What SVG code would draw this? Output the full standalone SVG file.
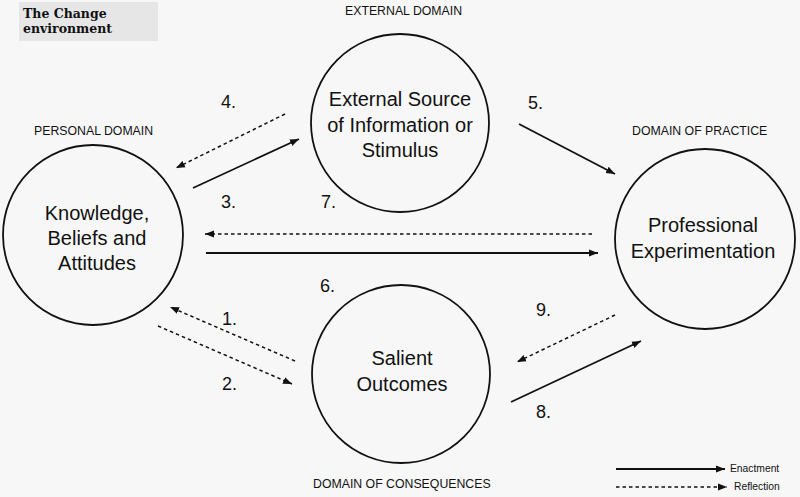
<svg xmlns="http://www.w3.org/2000/svg" width="800" height="497" viewBox="0 0 800 497">
<defs>
<style>
.node{fill:none;stroke:#111;stroke-width:1.8}
.lbl{font-family:"Liberation Sans",Arial,sans-serif;font-size:20px;fill:#111;text-anchor:middle}
.num{font-family:"Liberation Sans",Arial,sans-serif;font-size:18px;fill:#111}
.dom{font-family:"Liberation Sans",Arial,sans-serif;font-size:12.3px;fill:#111}
.leg{font-family:"Liberation Sans",Arial,sans-serif;font-size:10.3px;fill:#111}
.title{font-family:"DejaVu Serif","Liberation Serif",serif;font-size:12.5px;font-weight:bold;fill:#111}
.solid{stroke:#111;stroke-width:1.8;fill:none;marker-end:url(#ah)}
.dash{stroke:#111;stroke-width:1.5;fill:none;stroke-dasharray:3.5 3;marker-end:url(#ah)}
</style>
<marker id="ah" markerUnits="userSpaceOnUse" markerWidth="10" markerHeight="8" refX="9" refY="4" orient="auto">
<path d="M0,0.5 L9,4 L0,7.5 Z" fill="#111"/>
</marker>
</defs>
<rect x="0" y="0" width="800" height="497" fill="#f7f7f7"/>
<g id="title">
<rect x="19" y="2" width="139" height="39" fill="#e6e6e6"/>
<text class="title" x="23" y="18">The Change</text>
<text class="title" x="23" y="33">environment</text>
</g>
<g id="domains">
<text class="dom" x="345" y="15">EXTERNAL DOMAIN</text>
<text class="dom" x="34" y="135">PERSONAL DOMAIN</text>
<text class="dom" x="632" y="135">DOMAIN OF PRACTICE</text>
<text class="dom" x="313" y="488">DOMAIN OF CONSEQUENCES</text>
</g>
<g id="node-knowledge">
<circle class="node" cx="93" cy="235" r="90"/>
<text class="lbl" x="97" y="220">Knowledge,</text>
<text class="lbl" x="97" y="245">Beliefs and</text>
<text class="lbl" x="97" y="270">Attitudes</text>
</g>
<g id="node-external">
<circle class="node" cx="400" cy="123" r="89"/>
<text class="lbl" x="400" y="106">External Source</text>
<text class="lbl" x="400" y="132">of Information or</text>
<text class="lbl" x="400" y="157">Stimulus</text>
</g>
<g id="node-professional">
<circle class="node" cx="705" cy="239" r="90"/>
<text class="lbl" x="703" y="232">Professional</text>
<text class="lbl" x="703" y="258">Experimentation</text>
</g>
<g id="node-salient">
<circle class="node" cx="401" cy="374" r="89"/>
<text class="lbl" x="402" y="365">Salient</text>
<text class="lbl" x="402" y="391">Outcomes</text>
</g>
<g id="connectors">
<line class="dash" x1="285" y1="114" x2="176" y2="168"/>
<line class="solid" x1="193" y1="188" x2="299" y2="139"/>
<line class="solid" x1="519" y1="124" x2="615" y2="174"/>
<line class="dash" x1="592" y1="234" x2="205" y2="234"/>
<line class="solid" x1="206" y1="253" x2="598" y2="253"/>
<line class="dash" x1="295" y1="361" x2="170" y2="307"/>
<line class="dash" x1="158" y1="326" x2="292" y2="384"/>
<line class="dash" x1="615" y1="315" x2="517" y2="362"/>
<line class="solid" x1="511" y1="402" x2="641" y2="341"/>
</g>
<g id="numbers">
<text class="num" x="221" y="108">4.</text>
<text class="num" x="528" y="109">5.</text>
<text class="num" x="221" y="208">3.</text>
<text class="num" x="321" y="208">7.</text>
<text class="num" x="320" y="292">6.</text>
<text class="num" x="222" y="325">1.</text>
<text class="num" x="222" y="390">2.</text>
<text class="num" x="536" y="316">9.</text>
<text class="num" x="536" y="418">8.</text>
</g>
<g id="legend">
<line class="solid" x1="616" y1="469" x2="725" y2="469"/>
<line class="dash" x1="616" y1="487" x2="727" y2="487"/>
<text class="leg" x="730" y="472">Enactment</text>
<text class="leg" x="734" y="490">Reflection</text>
</g>
</svg>
